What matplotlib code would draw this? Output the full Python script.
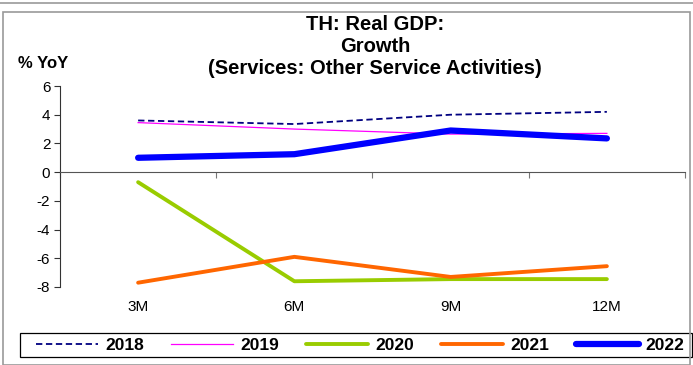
import matplotlib
matplotlib.use("Agg")
import matplotlib.pyplot as plt
from matplotlib.lines import Line2D
from matplotlib.patches import Rectangle
import matplotlib.transforms as mtransforms

plt.rcParams['font.family'] = ['Liberation Sans', 'DejaVu Sans']

categories = ["3M", "6M", "9M", "12M"]
y2018 = [3.6, 3.35, 4.0, 4.2]
y2019 = [3.45, 3.0, 2.65, 2.7]
y2020 = [-0.7, -7.6, -7.45, -7.45]
y2021 = [-7.7, -5.9, -7.3, -6.55]
y2022 = [1.0, 1.25, 2.9, 2.35]
yticks = [6, 4, 2, 0, -2, -4, -6, -8]

W, H = 693, 365
fig = plt.figure(figsize=(W / 100, H / 100), dpi=100)
ax = fig.add_axes([60 / W, 1 - 287 / H, (685 - 60) / W, (287 - 86) / H])

x = list(range(len(categories)))
ax.plot(x, y2018, color="#000080", lw=1.3, ls=(0, (3.5, 2)), label="2018", zorder=3)
ax.plot(x, y2019, color="#FF00FF", lw=0.9, label="2019", zorder=3)
ax.plot(x, y2020, color="#99CC00", lw=2.8, label="2020", solid_capstyle="round", zorder=3)
ax.plot(x, y2021, color="#FF6600", lw=2.8, label="2021", solid_capstyle="round", zorder=3)
ax.plot(x, y2022, color="#0000FF", lw=4.5, label="2022", solid_capstyle="round", zorder=4)

ax.set_xlim(-0.5, len(categories) - 0.5)
ax.set_ylim(-8, 6)
ax.set_yticks(yticks)
ax.set_yticklabels([str(v) for v in yticks], fontsize=11)
ax.tick_params(axis="y", length=4, width=0.8, colors="#333333", labelcolor="black", pad=3)

for s in ["top", "right"]:
    ax.spines[s].set_visible(False)
ax.spines["left"].set_color("#333333")
ax.spines["left"].set_linewidth(0.8)
ax.spines["bottom"].set_position(("data", 0))
ax.spines["bottom"].set_color("#555555")
ax.spines["bottom"].set_linewidth(0.8)
ax.set_xticks([i - 0.5 for i in range(len(categories) + 1)])
ax.set_xticklabels([])
ax.tick_params(axis="x", length=4, width=0.8, colors="#777777", direction="out")

trans = mtransforms.blended_transform_factory(ax.transData, ax.transAxes)
for i, c in enumerate(categories):
    ax.text(i, -0.1, c, transform=trans, ha="center", va="center", fontsize=11)

fig.text(375 / W, 1 - 46.5 / H, "TH: Real GDP:\nGrowth\n(Services: Other Service Activities)",
         ha="center", va="center", fontsize=14.5, fontweight="bold", linespacing=1.2)
fig.text(18 / W, 1 - 64 / H, "% YoY", ha="left", va="center", fontsize=12, fontweight="bold")

handles, labels = ax.get_legend_handles_labels()
leg = fig.legend(handles, labels, loc="center", ncol=5,
                 bbox_to_anchor=(360 / W, 1 - 345.5 / H), frameon=False,
                 handlelength=3.6, columnspacing=1.55, handletextpad=0.4,
                 borderpad=0.2, prop={"weight": "bold", "size": 12.5})
leg.set_zorder(10)
fig.add_artist(Rectangle((20 / W, 1 - 357 / H), (692 - 20) / W, 24 / H, transform=fig.transFigure,
                         fill=False, edgecolor="black", lw=0.9))

# outer frame
fig.add_artist(Rectangle((3 / W, 0), (690 - 3) / W, 1 - 12 / H, transform=fig.transFigure,
                         fill=False, edgecolor="#999999", lw=1.2))
fig.add_artist(Line2D([0, 1], [1 - 3 / H, 1 - 3 / H], transform=fig.transFigure,
                      color="#999999", lw=1.2))

fig.savefig("out.png", dpi=100)
